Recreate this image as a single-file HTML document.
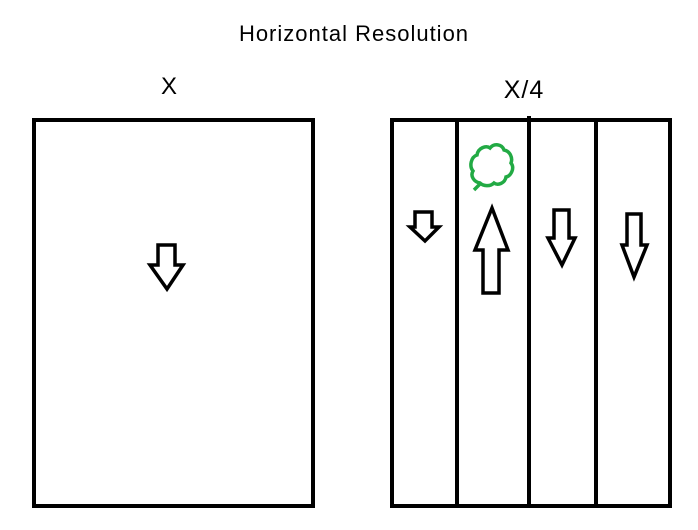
<!DOCTYPE html>
<html><head><style>
body{margin:0;background:#fff;width:698px;height:530px;overflow:hidden}
svg{display:block}
text{font-family:"Liberation Sans",sans-serif;fill:#000}
</style></head><body>
<svg width="698" height="530" viewBox="0 0 698 530">
<text x="354" y="41" font-size="22" letter-spacing="1" text-anchor="middle">Horizontal Resolution</text>
<text x="169" y="94" font-size="24" text-anchor="middle">X</text>
<text x="524" y="98" font-size="25" letter-spacing="1" text-anchor="middle">X/4</text>
<g fill="none" stroke="#000" stroke-width="4" stroke-linejoin="miter">
<rect x="34" y="120" width="279" height="386"/>
<rect x="392" y="120" width="278" height="386"/>
<line x1="457" y1="120" x2="457" y2="506"/>
<line x1="529" y1="116" x2="529" y2="506"/>
<line x1="596" y1="120" x2="596" y2="506"/>
</g>
<g fill="#fff" stroke="#000" stroke-width="3.5" stroke-linejoin="miter">
<polygon points="158,245 175,245 175,265 183,265 167,289 150,265 158,265"/>
<polygon points="415,212 432,212 432,227 439,227 425,241 410,227 415,227"/>
<polygon points="492,208 508,250 499,250 499,293 483,293 483,250 475,250"/>
<polygon points="554,210 569,210 569,238 575,238 562,265 548,238 554,238"/>
<polygon points="627,214 641,214 641,245 647,245 634,277 622,245 627,245"/>
</g>
<path d="M474,190 L481,183 M480,183 C474,182 470,176 473,171 C469,166 471,157 477,155 C478,148 486,145 490,148 C494,143 502,144 504,150 C510,151 513,158 511,163 C515,168 511,176 506,177 C505,183 498,186 494,183 C490,187 483,186 480,183 Z" fill="none" stroke="#22aa44" stroke-width="3.5"/>
</svg>
</body></html>
